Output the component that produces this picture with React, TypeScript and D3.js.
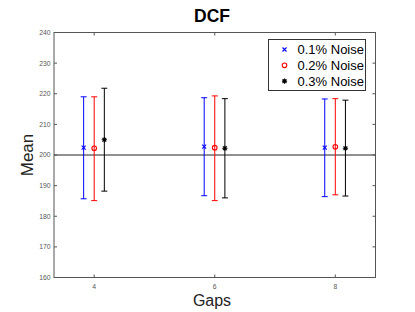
import React from 'react';
import * as d3 from 'd3';

const gaps = [4, 6, 8];
const seriesNames = ['0.1% Noise', '0.2% Noise', '0.3% Noise'];
const seriesColors = ['#0000ff', '#ff0000', '#000000'];
const seriesMarkers = ['x', 'o', '*'];
const seriesOffsets = [-0.175, 0, 0.168];

// mean, upper, lower for each gap
const means = [
  [202.4, 202.7, 202.4],
  [202.2, 202.4, 202.7],
  [205.0, 202.2, 202.2],
];
const uppers = [
  [219.0, 218.7, 218.3],
  [219.0, 219.3, 218.4],
  [221.8, 218.4, 217.9],
];
const lowers = [
  [185.7, 186.7, 186.4],
  [185.1, 185.1, 187.0],
  [188.2, 186.0, 186.6],
];
const yTicks = [160, 170, 180, 190, 200, 210, 220, 230, 240];
const refLine = 200;

const W = 415;
const H = 312;
const left = 54;
const right = 375.5;
const top = 32.5;
const bottom = 277.5;
const axisColor = '#555';
const font = 'Liberation Sans, Arial, Helvetica, sans-serif';

const Marker: React.FC<{ kind: string; x: number; y: number; color: string }> = ({ kind, x, y, color }) => {
  if (kind === 'x') {
    const s = 2;
    return (
      <path d={`M${x - s},${y - s}L${x + s},${y + s}M${x - s},${y + s}L${x + s},${y - s}`} stroke={color} strokeWidth={1.1} />
    );
  }
  if (kind === 'o') {
    return <circle cx={x} cy={y} r={2.3} fill="none" stroke={color} strokeWidth={1.1} />;
  }
  const s = 2.6;
  const d = 1.9;
  return (
    <path
      d={`M${x - s},${y}L${x + s},${y}M${x},${y - s}L${x},${y + s}M${x - d},${y - d}L${x + d},${y + d}M${x - d},${y + d}L${x + d},${y - d}`}
      stroke={color}
      strokeWidth={1.1}
    />
  );
};

export default function App() {
  const x = d3.scaleLinear().domain([3.333, 8.667]).range([left, right]);
  const y = d3.scaleLinear().domain([160, 240]).range([bottom, top]);
  const cap = 3;

  return (
    <svg width={W} height={H} style={{ position: 'absolute', left: 0, top: 0, background: '#fff' }} fontFamily={font}>
      <rect x={0} y={0} width={W} height={H} fill="#fff" />

      {/* reference line */}
      <line x1={left} x2={right} y1={y(refLine)} y2={y(refLine)} stroke="#222" strokeWidth={1} />

      {/* error bars */}
      {seriesNames.map((name, si) => (
        <g key={name}>
          {gaps.map((g, gi) => {
            const cx = x(g + seriesOffsets[si]);
            const yu = y(uppers[si][gi]);
            const yl = y(lowers[si][gi]);
            const ym = y(means[si][gi]);
            const c = seriesColors[si];
            return (
              <g key={g}>
                <line x1={cx} x2={cx} y1={yu} y2={yl} stroke={c} strokeWidth={1} />
                <line x1={cx - cap} x2={cx + cap} y1={yu} y2={yu} stroke={c} strokeWidth={1} />
                <line x1={cx - cap} x2={cx + cap} y1={yl} y2={yl} stroke={c} strokeWidth={1} />
                <Marker kind={seriesMarkers[si]} x={cx} y={ym} color={c} />
              </g>
            );
          })}
        </g>
      ))}

      {/* axes box */}
      <rect x={left} y={top} width={right - left} height={bottom - top} fill="none" stroke={axisColor} strokeWidth={1} />

      {yTicks.map((t) => (
        <g key={t}>
          <line x1={left} x2={left + 3} y1={y(t)} y2={y(t)} stroke={axisColor} />
          <line x1={right - 3} x2={right} y1={y(t)} y2={y(t)} stroke={axisColor} />
          <text x={left - 3.5} y={y(t)} dy="0.35em" textAnchor="end" fontSize={6.8} fill="#555">
            {t}
          </text>
        </g>
      ))}
      {gaps.map((g) => (
        <g key={g}>
          <line x1={x(g)} x2={x(g)} y1={bottom} y2={bottom - 3} stroke={axisColor} />
          <line x1={x(g)} x2={x(g)} y1={top} y2={top + 3} stroke={axisColor} />
          <text x={x(g)} y={bottom + 11} textAnchor="middle" fontSize={6.8} fill="#555">
            {g}
          </text>
        </g>
      ))}

      {/* labels */}
      <text x={212} y={22} textAnchor="middle" fontSize={17.5} fontWeight="bold" fill="#000">
        DCF
      </text>
      <text x={212} y={306} textAnchor="middle" fontSize={16} fill="#222">
        Gaps
      </text>
      <text transform={`translate(33,155) rotate(-90)`} textAnchor="middle" fontSize={17} fill="#222">
        Mean
      </text>

      {/* legend */}
      <rect x={268.5} y={39.5} width={97} height={51} fill="#fff" stroke="#333" strokeWidth={1} />
      {seriesNames.map((name, si) => {
        const ly = 49.5 + si * 15.8;
        return (
          <g key={name}>
            <Marker kind={seriesMarkers[si]} x={284.5} y={ly} color={seriesColors[si]} />
            <text x={297.5} y={ly} dy="0.36em" fontSize={13} fill="#000">
              {name}
            </text>
          </g>
        );
      })}
    </svg>
  );
}
